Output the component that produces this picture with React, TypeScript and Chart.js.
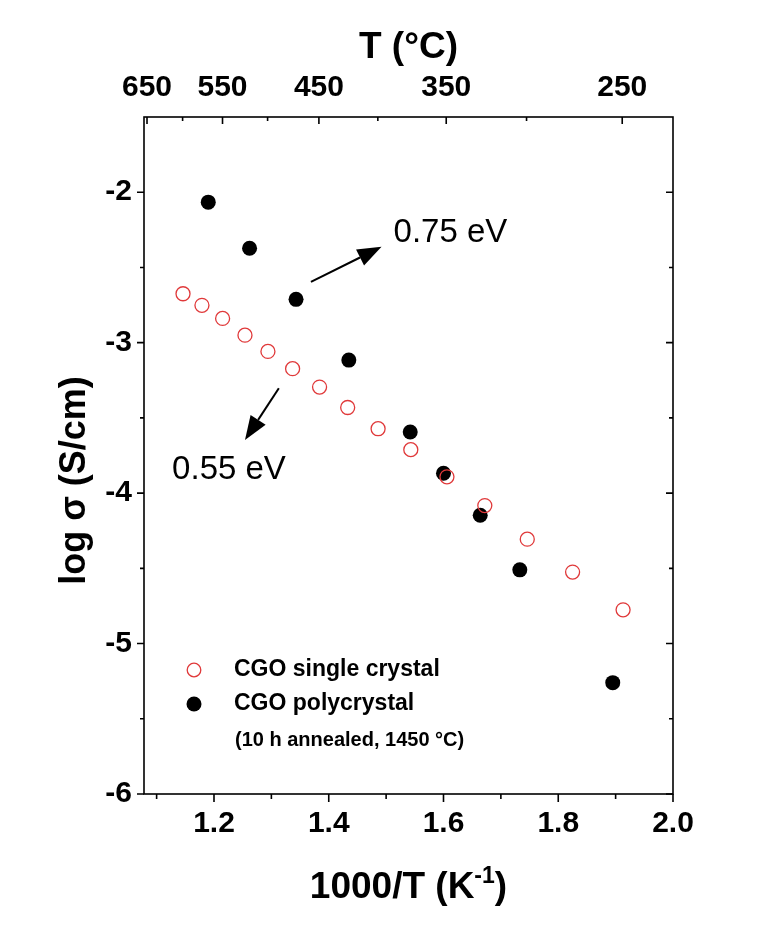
import React, { useEffect, useRef } from 'react';
import { Chart, registerables } from 'chart.js';

Chart.register(...registerables);

const FONT = '"Liberation Sans", Arial, sans-serif';
const RED = '#e0393a';

// Data: 1000/T (K^-1) vs log sigma (S/cm)
const singleX = [1.146, 1.179, 1.215, 1.254, 1.294, 1.337, 1.384, 1.433, 1.486, 1.543, 1.606, 1.672, 1.746, 1.825, 1.913];
const singleY = [-2.675, -2.752, -2.839, -2.95, -3.058, -3.173, -3.295, -3.431, -3.572, -3.711, -3.892, -4.083, -4.306, -4.525, -4.776];
const polyX = [1.19, 1.262, 1.343, 1.435, 1.542, 1.6, 1.664, 1.733, 1.895];
const polyY = [-2.066, -2.372, -2.712, -3.116, -3.594, -3.868, -4.147, -4.51, -5.26];

const X_MIN = 1.078;
const X_MAX = 2.0;
const Y_MIN = -6;
const Y_MAX = -1.5;

const bottomTicks = [1.2, 1.4, 1.6, 1.8, 2.0];
const bottomMinor = [1.1, 1.3, 1.5, 1.7, 1.9];
const leftTicks = [-6, -5, -4, -3, -2];
const leftMinor = [-5.5, -4.5, -3.5, -2.5];
const topTicksC = [650, 550, 450, 350, 250];
const topMinorC = [600, 500, 400, 300];

const legendLabels = ['CGO single crystal', 'CGO polycrystal'];
const legendNote = '(10 h annealed, 1450 °C)';

// arrows [x0, y0, x1, y1] in data units; labels [text, x, y]
const arrowHigh = [1.369, -2.596, 1.492, -2.363];
const arrowLow = [1.313, -3.303, 1.254, -3.647];
const labelHigh = ['0.75 eV', 1.513, -2.33];
const labelLow = ['0.55 eV', 1.127, -3.905];

const cToInv = (c: number) => 1000 / (c + 273.15);

const decorPlugin = {
  id: 'decor',
  afterDraw(chart: any) {
    const ctx = chart.ctx;
    const a = chart.chartArea;
    const sx = chart.scales.x;
    const sy = chart.scales.y;
    ctx.save();
    ctx.strokeStyle = '#000';
    ctx.fillStyle = '#000';
    ctx.lineWidth = 1.6;
    // frame
    ctx.strokeRect(a.left, a.top, a.right - a.left, a.bottom - a.top);
    ctx.beginPath();
    // bottom ticks (outward)
    bottomTicks.forEach((v) => { const p = sx.getPixelForValue(v); ctx.moveTo(p, a.bottom); ctx.lineTo(p, a.bottom + 8); });
    bottomMinor.forEach((v) => { const p = sx.getPixelForValue(v); ctx.moveTo(p, a.bottom); ctx.lineTo(p, a.bottom + 5); });
    // left ticks (outward)
    leftTicks.forEach((v) => { const p = sy.getPixelForValue(v); ctx.moveTo(a.left, p); ctx.lineTo(a.left - 7, p); });
    leftMinor.forEach((v) => { const p = sy.getPixelForValue(v); ctx.moveTo(a.left, p); ctx.lineTo(a.left - 4, p); });
    // right ticks (inward)
    leftTicks.forEach((v) => { const p = sy.getPixelForValue(v); ctx.moveTo(a.right, p); ctx.lineTo(a.right - 7, p); });
    leftMinor.forEach((v) => { const p = sy.getPixelForValue(v); ctx.moveTo(a.right, p); ctx.lineTo(a.right - 4, p); });
    // top ticks (inward)
    topTicksC.forEach((c) => { const p = sx.getPixelForValue(cToInv(c)); ctx.moveTo(p, a.top); ctx.lineTo(p, a.top + 7); });
    topMinorC.forEach((c) => { const p = sx.getPixelForValue(cToInv(c)); ctx.moveTo(p, a.top); ctx.lineTo(p, a.top + 4); });
    ctx.stroke();

    // arrows
    const drawArrow = (arr: number[]) => {
      const x0 = sx.getPixelForValue(arr[0]);
      const y0 = sy.getPixelForValue(arr[1]);
      const x1 = sx.getPixelForValue(arr[2]);
      const y1 = sy.getPixelForValue(arr[3]);
      const ang = Math.atan2(y1 - y0, x1 - x0);
      const hl = 24;
      const hw = 9;
      const bx = x1 - hl * Math.cos(ang);
      const by = y1 - hl * Math.sin(ang);
      ctx.lineWidth = 2;
      ctx.beginPath();
      ctx.moveTo(x0, y0);
      ctx.lineTo(bx, by);
      ctx.stroke();
      ctx.beginPath();
      ctx.moveTo(x1, y1);
      ctx.lineTo(bx + hw * Math.sin(ang), by - hw * Math.cos(ang));
      ctx.lineTo(bx - hw * Math.sin(ang), by + hw * Math.cos(ang));
      ctx.closePath();
      ctx.fill();
    };
    drawArrow(arrowHigh);
    drawArrow(arrowLow);

    ctx.font = `33px ${FONT}`;
    ctx.textAlign = 'left';
    ctx.textBaseline = 'alphabetic';
    [labelHigh, labelLow].forEach((l: any) => {
      ctx.fillText(l[0], sx.getPixelForValue(l[1]), sy.getPixelForValue(l[2]));
    });

    // legend
    const lx = a.left + 50;
    const ly0 = 670;
    ctx.beginPath();
    ctx.arc(lx, ly0, 6.8, 0, Math.PI * 2);
    ctx.strokeStyle = RED;
    ctx.lineWidth = 1.3;
    ctx.stroke();
    ctx.beginPath();
    ctx.arc(lx, ly0 + 34, 7.5, 0, Math.PI * 2);
    ctx.fill();
    ctx.font = `bold 23px ${FONT}`;
    ctx.textBaseline = 'middle';
    ctx.fillText(legendLabels[0], lx + 40, ly0);
    ctx.fillText(legendLabels[1], lx + 40, ly0 + 34);
    ctx.font = `bold 20px ${FONT}`;
    ctx.fillText(legendNote, lx + 41, ly0 + 70);

    // axis titles
    const cx = (a.left + a.right) / 2;
    const big = `bold 37px ${FONT}`;
    const small = `bold 23px ${FONT}`;
    ctx.textBaseline = 'alphabetic';
    const t1 = '1000/T (K';
    const sup = '-1';
    const t2 = ')';
    ctx.font = big;
    const w1 = ctx.measureText(t1).width;
    const w3 = ctx.measureText(t2).width;
    ctx.font = small;
    const w2 = ctx.measureText(sup).width;
    const total = w1 + w2 + w3;
    let xx = cx - total / 2;
    const base = 898;
    ctx.font = big;
    ctx.fillText(t1, xx, base);
    xx += w1;
    ctx.font = small;
    ctx.fillText(sup, xx, base - 15);
    xx += w2;
    ctx.font = big;
    ctx.fillText(t2, xx, base);

    ctx.textAlign = 'center';
    ctx.fillText('T (°C)', cx, 58);

    ctx.save();
    ctx.font = `bold 36px ${FONT}`;
    ctx.translate(85, (a.top + a.bottom) / 2 + 25);
    ctx.rotate(-Math.PI / 2);
    ctx.textBaseline = 'alphabetic';
    ctx.fillText('log σ (S/cm)', 0, 0);
    ctx.restore();

    ctx.restore();
  },
};

export default function App() {
  const ref = useRef<HTMLCanvasElement>(null);
  useEffect(() => {
    document.body.style.margin = '0';
    const canvas = ref.current;
    if (!canvas) return;
    const tickFont = { family: FONT, size: 30, weight: 'bold' as const };
    const chart = new Chart(canvas, {
      type: 'scatter',
      data: {
        datasets: [
          {
            label: legendLabels[0],
            data: singleX.map((x, i) => ({ x, y: singleY[i] })),
            pointRadius: 7,
            pointBorderColor: RED,
            pointBackgroundColor: 'rgba(255,255,255,0)',
            pointBorderWidth: 1.3,
            xAxisID: 'x',
            yAxisID: 'y',
          },
          {
            label: legendLabels[1],
            data: polyX.map((x, i) => ({ x, y: polyY[i] })),
            pointRadius: 7.5,
            pointBorderColor: '#000',
            pointBackgroundColor: '#000',
            pointBorderWidth: 0,
            xAxisID: 'x',
            yAxisID: 'y',
          },
        ],
      },
      options: {
        responsive: false,
        animation: false,
        events: [],
        layout: { padding: 0 },
        plugins: { legend: { display: false }, tooltip: { enabled: false } },
        scales: {
          x: {
            type: 'linear',
            position: 'bottom',
            min: X_MIN,
            max: X_MAX,
            afterFit: (s: any) => { s.height = 146; },
            afterBuildTicks: (s: any) => { s.ticks = bottomTicks.map((v) => ({ value: v })); },
            grid: { display: false, drawTicks: false },
            border: { display: false },
            ticks: {
              font: tickFont,
              color: '#000',
              padding: 12,
              maxRotation: 0,
              autoSkip: false,
              callback: (v: any) => Number(v).toFixed(1),
            },
          },
          x2: {
            type: 'linear',
            position: 'top',
            min: X_MIN,
            max: X_MAX,
            afterFit: (s: any) => { s.height = 117; },
            afterBuildTicks: (s: any) => { s.ticks = topTicksC.map((c) => ({ value: cToInv(c) })); },
            grid: { display: false, drawTicks: false },
            border: { display: false },
            ticks: {
              font: tickFont,
              color: '#000',
              padding: 11,
              maxRotation: 0,
              autoSkip: false,
              callback: (v: any) => String(Math.round(1000 / Number(v) - 273.15)),
            },
          },
          y: {
            type: 'linear',
            position: 'left',
            min: Y_MIN,
            max: Y_MAX,
            afterFit: (s: any) => { s.width = 144; },
            afterBuildTicks: (s: any) => { s.ticks = leftTicks.map((v) => ({ value: v })); },
            grid: { display: false, drawTicks: false },
            border: { display: false },
            ticks: {
              font: tickFont,
              color: '#000',
              padding: 12,
              autoSkip: false,
              callback: (v: any) => String(v),
            },
          },
          y2: {
            type: 'linear',
            position: 'right',
            min: Y_MIN,
            max: Y_MAX,
            afterFit: (s: any) => { s.width = 95; },
            grid: { display: false, drawTicks: false },
            border: { display: false },
            ticks: { display: false },
          },
        },
      },
      plugins: [decorPlugin],
    });
    return () => chart.destroy();
  }, []);
  return (
    <div style={{ width: 768, height: 940, background: '#fff' }}>
      <canvas ref={ref} width={768} height={940} style={{ display: 'block' }} />
    </div>
  );
}
